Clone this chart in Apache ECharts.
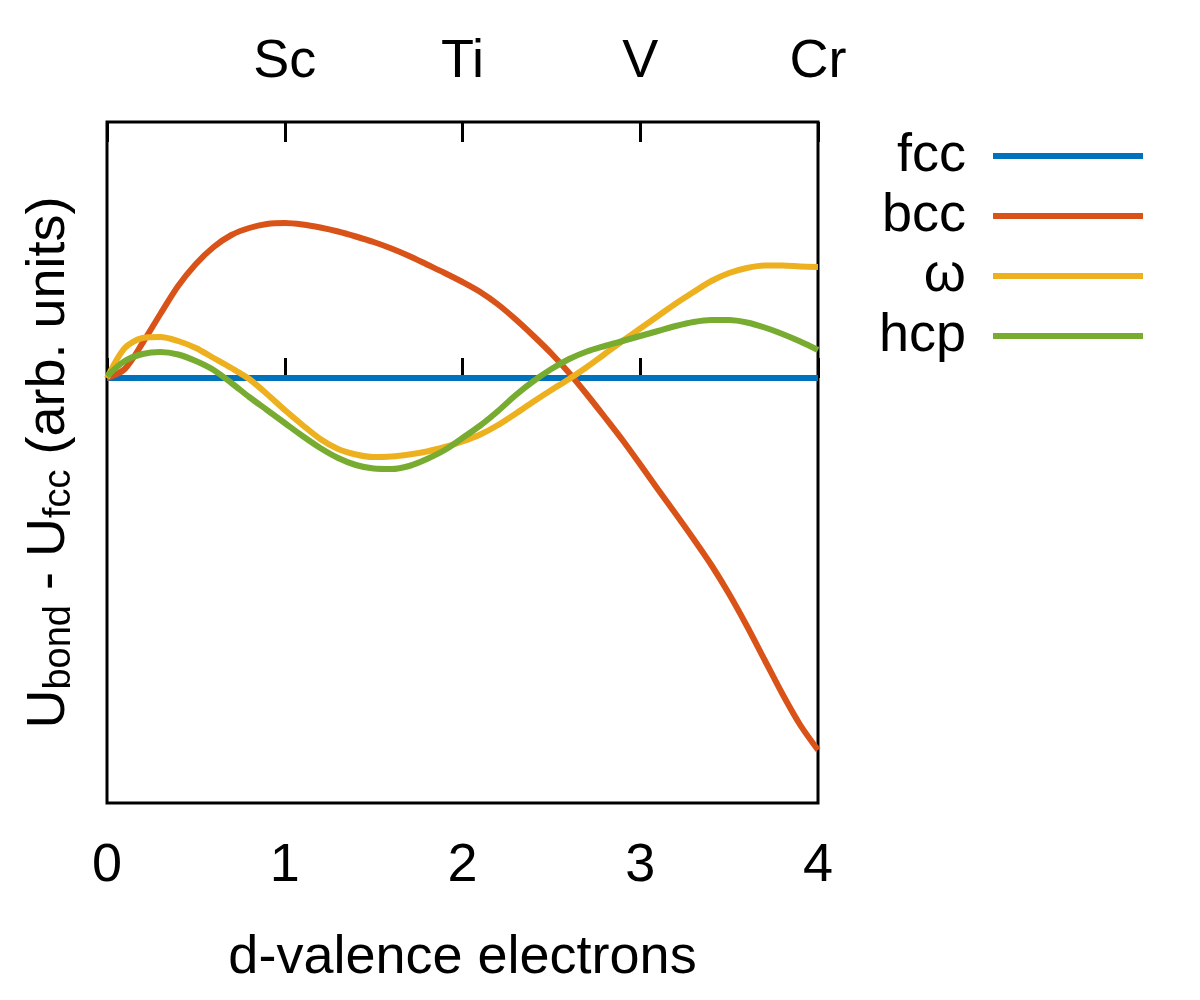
<!DOCTYPE html>
<html>
<head>
<meta charset="utf-8">
<script src="https://cdn.jsdelivr.net/npm/echarts@6/dist/echarts.min.js"></script>
<style>
  html, body { margin: 0; padding: 0; background: #fff; }
  #chart { width: 1200px; height: 1000px; }
</style>
</head>
<body>
<div id="chart"></div>
<script>
// d-valence electrons, step 0.1 from 0 to 4
const xValues = Array.from({ length: 41 }, (_, i) => +(i * 0.1).toFixed(1))
const legendNames = ['fcc', 'bcc', 'ω', 'hcp']
const topLabels = { 1: 'Sc', 2: 'Ti', 3: 'V', 4: 'Cr' }

const fccData = xValues.map(() => 0)
const bccData = [0, 0.09, 0.35, 0.64, 0.92, 1.14, 1.31, 1.43, 1.50, 1.54,
  1.55, 1.535, 1.505, 1.465, 1.415, 1.36, 1.295, 1.22, 1.135, 1.05,
  0.96, 0.86, 0.735, 0.585, 0.42, 0.245, 0.05, -0.165, -0.39, -0.62,
  -0.865, -1.115, -1.36, -1.61, -1.87, -2.16, -2.48, -2.82, -3.16, -3.47,
  -3.72]
const omegaData = [0, 0.30, 0.40, 0.41, 0.37, 0.30, 0.20, 0.10, -0.01, -0.16,
  -0.32, -0.47, -0.61, -0.71, -0.765, -0.79, -0.785, -0.765, -0.735, -0.69,
  -0.635, -0.565, -0.47, -0.355, -0.235, -0.12, -0.01, 0.11, 0.24, 0.37,
  0.495, 0.62, 0.745, 0.86, 0.97, 1.05, 1.10, 1.125, 1.125, 1.115,
  1.11]
const hcpData = [0.02, 0.17, 0.24, 0.26, 0.235, 0.17, 0.08, -0.05, -0.19, -0.32,
  -0.45, -0.58, -0.70, -0.80, -0.87, -0.905, -0.91, -0.88, -0.81, -0.72,
  -0.60, -0.475, -0.33, -0.17, -0.03, 0.09, 0.19, 0.265, 0.32, 0.37,
  0.42, 0.47, 0.52, 0.56, 0.58, 0.58, 0.555, 0.505, 0.44, 0.365,
  0.28]

const colorList = ['#0072BD', '#D95319', '#EDB120', '#77AC30']
const font = "'Liberation Sans', Arial, sans-serif"

const chart = echarts.init(document.getElementById('chart'))

function makeSeries(name, data, idx) {
  return {
    name: name,
    type: 'line',
    data: xValues.map((x, i) => [x, data[i]]),
    showSymbol: false,
    smooth: 0.3,
    lineStyle: { width: 6, color: colorList[idx] },
    itemStyle: { color: colorList[idx] }
  }
}

chart.setOption({
  animation: false,
  textStyle: { fontFamily: font },
  grid: {
    left: 107,
    top: 122,
    width: 711,
    height: 681,
    show: true,
    borderColor: '#000',
    borderWidth: 3,
    backgroundColor: 'transparent'
  },
  legend: {
    orient: 'vertical',
    right: 52,
    top: 124,
    align: 'right',
    icon: 'rect',
    itemWidth: 150,
    itemHeight: 6,
    itemGap: 6,
    data: legendNames,
    textStyle: {
      fontSize: 54,
      fontFamily: font,
      color: '#000',
      padding: [0, 22, 0, 0]
    }
  },
  xAxis: [{
    type: 'value',
    min: 0,
    max: 4,
    interval: 1,
    position: 'bottom',
    name: 'd-valence electrons',
    nameLocation: 'middle',
    nameGap: 128,
    nameTextStyle: { fontSize: 54, color: '#000', fontFamily: font },
    axisLine: { show: false },
    axisTick: { show: true, inside: true, length: 20, lineStyle: { color: '#000', width: 3 } },
    axisLabel: { fontSize: 54, color: '#000', margin: 36, fontFamily: font },
    splitLine: { show: false }
  }, {
    type: 'value',
    min: 0,
    max: 4,
    interval: 1,
    position: 'top',
    axisLine: { show: false },
    axisTick: { show: true, inside: true, length: 20, lineStyle: { color: '#000', width: 3 } },
    axisLabel: {
      fontSize: 54,
      color: '#000',
      margin: 33,
      fontFamily: font,
      formatter: v => topLabels[v] || ''
    },
    splitLine: { show: false }
  }],
  yAxis: {
    type: 'value',
    min: -4.25,
    max: 2.56,
    name: '{n|U}{s|bond}{n| - U}{s|fcc}{n| (arb. units)}',
    nameLocation: 'middle',
    nameRotate: 90,
    nameGap: 28,
    nameTextStyle: {
      color: '#000',
      rich: {
        n: { fontSize: 54, fontFamily: font, color: '#000' },
        s: { fontSize: 38, fontFamily: font, color: '#000', verticalAlign: 'bottom', padding: [22, 0, 0, 0] }
      }
    },
    axisLine: { show: false },
    axisTick: { show: false },
    axisLabel: { show: false },
    splitLine: { show: false }
  },
  series: [
    makeSeries(legendNames[0], fccData, 0),
    makeSeries(legendNames[1], bccData, 1),
    makeSeries(legendNames[2], omegaData, 2),
    makeSeries(legendNames[3], hcpData, 3)
  ]
})
</script>
</body>
</html>
